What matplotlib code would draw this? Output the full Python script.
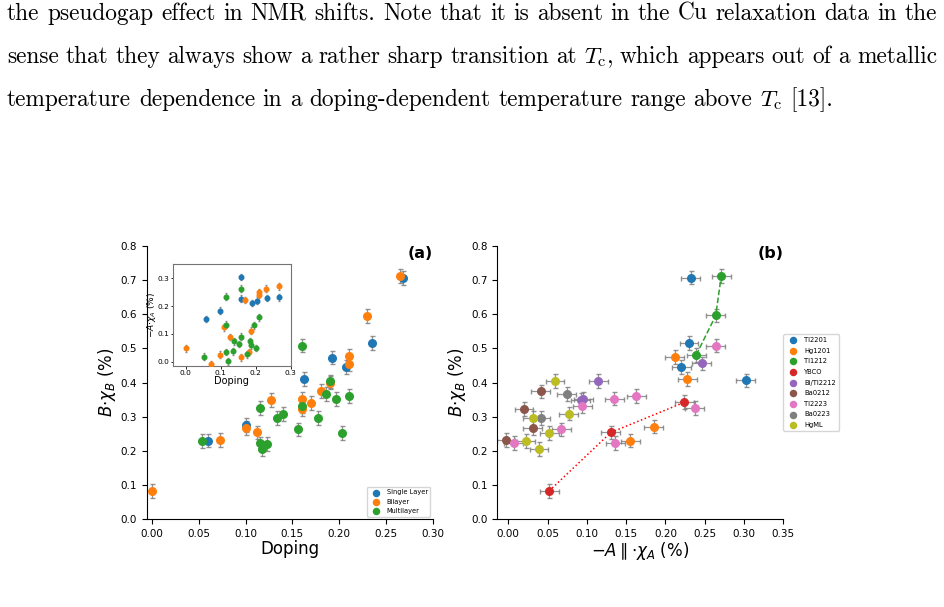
import matplotlib.pyplot as plt
import numpy as np

plt.rcParams['mathtext.fontset'] = 'dejavusans'

# ---- data panel (a): doping vs B.chi_B ----
single_x = [0.060, 0.100, 0.162, 0.192, 0.207, 0.235, 0.268]
single_y = [0.230, 0.275, 0.410, 0.473, 0.446, 0.515, 0.706]
bi_x = [0.000, 0.073, 0.100, 0.112, 0.127, 0.160, 0.160, 0.170, 0.180, 0.190, 0.210, 0.210, 0.230, 0.265]
bi_y = [0.083, 0.232, 0.266, 0.254, 0.349, 0.353, 0.322, 0.341, 0.375, 0.400, 0.455, 0.478, 0.595, 0.712]
multi_x = [0.053, 0.115, 0.115, 0.118, 0.123, 0.134, 0.140, 0.156, 0.160, 0.160, 0.177, 0.186, 0.190, 0.196, 0.203, 0.210]
multi_y = [0.228, 0.325, 0.222, 0.205, 0.221, 0.296, 0.307, 0.263, 0.332, 0.508, 0.297, 0.367, 0.403, 0.352, 0.253, 0.361]

# ---- inset: doping vs -A.chi_A ----
in_single_x = [0.058, 0.098, 0.158, 0.158, 0.189, 0.204, 0.233, 0.267]
in_single_y = [0.153, 0.183, 0.304, 0.227, 0.211, 0.219, 0.229, 0.232]
in_bi_x = [0.000, 0.071, 0.098, 0.109, 0.126, 0.158, 0.168, 0.181, 0.187, 0.209, 0.210, 0.228, 0.266]
in_bi_y = [0.048, -0.008, 0.025, 0.124, 0.089, 0.016, 0.222, 0.035, 0.112, 0.241, 0.250, 0.263, 0.271]
in_multi_x = [0.052, 0.114, 0.114, 0.115, 0.121, 0.134, 0.138, 0.153, 0.158, 0.158, 0.176, 0.184, 0.187, 0.194, 0.201, 0.210]
in_multi_y = [0.018, 0.234, 0.133, 0.035, 0.001, 0.037, 0.073, 0.064, 0.090, 0.262, 0.027, 0.073, 0.059, 0.131, 0.049, 0.160]

# ---- panel (b): -A.chi_A vs B.chi_B per compound ----
compounds = ['Tl2201', 'Hg1201', 'Tl1212', 'YBCO', 'Bi/Tl2212', 'Ba0212', 'Tl2223', 'Ba0223', 'HgML']
b_x = [
    [0.232, 0.230, 0.220, 0.302],
    [0.212, 0.228, 0.185, 0.155],
    [0.239, 0.264, 0.271],
    [0.052, 0.1306, 0.224],
    [0.1145, 0.246, 0.0954, 0.092],
    [0.0412, 0.020, 0.031, -0.003],
    [0.264, 0.163, 0.135, 0.094, 0.0674, 0.237, 0.136, 0.0069],
    [0.0743, 0.0416],
    [0.0594, 0.0768, 0.031, 0.052, 0.0225, 0.039],
]
b_y = [
    [0.707, 0.515, 0.446, 0.406],
    [0.474, 0.410, 0.271, 0.230],
    [0.480, 0.596, 0.712],
    [0.083, 0.254, 0.342],
    [0.404, 0.456, 0.352, 0.349],
    [0.374, 0.322, 0.266, 0.232],
    [0.508, 0.361, 0.353, 0.332, 0.263, 0.325, 0.223, 0.223],
    [0.367, 0.297],
    [0.404, 0.309, 0.297, 0.253, 0.229, 0.206],
]

W, H = 944, 607
fig = plt.figure(figsize=(W / 100, H / 100), dpi=100)

# ---- paragraph text on top (justified by hand) ----
lines = [
    "the pseudogap effect in NMR shifts. Note that it is absent in the Cu relaxation data in the",
    r"sense that they always show a rather sharp transition at $T_\mathrm{c}$, which appears out of a metallic",
    r"temperature dependence in a doping-dependent temperature range above $T_\mathrm{c}$ [13].",
]
baselines = [20, 63, 106]
justify = [True, True, False]
fam = ['cmr10', 'DejaVu Serif']
rend = fig.canvas.get_renderer()


def word_widths(words, size):
    out = []
    for w in words:
        t = fig.text(0, 0, w, fontsize=size, family=fam, math_fontfamily='cm')
        out.append(t.get_window_extent(rend).width)
        t.remove()
    return out


# pick font size so the last (non-justified) line is the right width
w3 = lines[2].split(' ')
ww = word_widths(w3, 10)
nat = sum(ww) + (len(w3) - 1) * 10 * 100 / 72 * 0.333
fsize = 10 * (838 - 7) / nat

for ln, yb, jus in zip(lines, baselines, justify):
    words = ln.split(' ')
    ww = word_widths(words, fsize)
    if jus:
        gap = (937 - 7 - sum(ww)) / (len(words) - 1)
    else:
        gap = fsize * 100 / 72 * 0.333
    x = 7
    for w, wd in zip(words, ww):
        fig.text(x / W, 1 - yb / H, w, fontsize=fsize, family=fam,
                 math_fontfamily='cm', va='baseline')
        x += wd + gap

ekw = dict(fmt='none', ecolor='gray', elinewidth=0.9, capsize=1.8, alpha=0.85)
tick_kw = dict(labelsize=7.5, length=3.5, width=0.8)

# ---- panel (a) ----
ax1 = fig.add_axes([0.1554, 0.1445, 0.3033, 0.4507])
for xs, ys, c, lab in [(single_x, single_y, 'C0', 'Single Layer'),
                       (bi_x, bi_y, 'C1', 'Bilayer'),
                       (multi_x, multi_y, 'C2', 'Multilayer')]:
    ax1.errorbar(xs, ys, yerr=0.02, **ekw)
    ax1.scatter(xs, ys, s=30, color=c, label=lab, zorder=3)
ax1.set_xlim(-0.0055, 0.30)
ax1.set_ylim(0, 0.8)
ax1.set_xticks(np.arange(0, 0.301, 0.05))
ax1.set_xticklabels(['%.2f' % v for v in np.arange(0, 0.301, 0.05)])
ax1.set_yticks(np.arange(0, 0.81, 0.1))
ax1.set_yticklabels(['%.1f' % v for v in np.arange(0, 0.81, 0.1)])
ax1.spines['top'].set_visible(False)
ax1.spines['right'].set_visible(False)
ax1.tick_params(**tick_kw)
ax1.set_xlabel('Doping', fontsize=12, labelpad=1)
ax1.set_ylabel(r'$B{\cdot}\chi_B$ (%)', fontsize=12, labelpad=2)
ax1.text(1.0, 1.0, '(a)', transform=ax1.transAxes, ha='right', va='top',
         fontsize=11.5, fontweight='bold')
ax1.legend(loc='lower right', fontsize=4.8, markerscale=0.8, borderaxespad=0.4,
           handletextpad=0.6)

# ---- inset ----
axi = fig.add_axes([0.1829, 0.397, 0.125, 0.1675])
for xs, ys, c in [(in_single_x, in_single_y, 'C0'),
                  (in_bi_x, in_bi_y, 'C1'),
                  (in_multi_x, in_multi_y, 'C2')]:
    axi.errorbar(xs, ys, yerr=0.012, fmt='none', ecolor='gray', elinewidth=0.7,
                 capsize=1.0, alpha=0.85)
    axi.scatter(xs, ys, s=11, color=c, zorder=3)
axi.set_xlim(-0.038, 0.30)
axi.set_ylim(-0.0155, 0.35)
axi.set_xticks([0, 0.1, 0.2, 0.3])
axi.set_xticklabels(['0.0', '0.1', '0.2', '0.3'])
axi.set_yticks([0, 0.1, 0.2, 0.3])
axi.set_yticklabels(['0.0', '0.1', '0.2', '0.3'])
axi.tick_params(labelsize=5.3, length=1.8, width=0.6, pad=0.8)
for s in axi.spines.values():
    s.set_color('0.45')
    s.set_linewidth(0.8)
axi.set_xlabel('Doping', fontsize=7, labelpad=0.5)
axi.set_ylabel(r'$-A{\cdot}\chi_A$ (%)', fontsize=6.5)
axi.yaxis.set_label_coords(-0.125, 0.5)

# ---- panel (b) ----
ax2 = fig.add_axes([0.5268, 0.1445, 0.303, 0.4507])
for i, (name, xs, ys) in enumerate(zip(compounds, b_x, b_y)):
    ax2.errorbar(xs, ys, xerr=0.012, yerr=0.02, **ekw)
    ax2.scatter(xs, ys, s=30, color='C%d' % i, label=name, zorder=3)
# guide lines through YBCO and Tl1212
ax2.plot(b_x[3], b_y[3], ':', color='red', lw=1.1, zorder=2)
ax2.plot(b_x[2], b_y[2], '--', color='C2', lw=1.1, zorder=2)
ax2.set_xlim(-0.014, 0.35)
ax2.set_ylim(0, 0.8)
ax2.set_xticks(np.arange(0, 0.351, 0.05))
ax2.set_xticklabels(['%.2f' % v for v in np.arange(0, 0.351, 0.05)])
ax2.set_yticks(np.arange(0, 0.81, 0.1))
ax2.set_yticklabels(['%.1f' % v for v in np.arange(0, 0.81, 0.1)])
ax2.spines['top'].set_visible(False)
ax2.spines['right'].set_visible(False)
ax2.tick_params(**tick_kw)
ax2.set_xlabel(r'$-A\parallel{\cdot}\chi_A$ (%)', fontsize=12, labelpad=1)
ax2.set_ylabel(r'$B{\cdot}\chi_B$ (%)', fontsize=12, labelpad=2)
ax2.text(1.0, 1.0, '(b)', transform=ax2.transAxes, ha='right', va='top',
         fontsize=11.5, fontweight='bold')
ax2.legend(loc='center left', bbox_to_anchor=(1.0, 0.5), fontsize=4.9,
           markerscale=0.8, borderaxespad=0.0, handletextpad=0.7,
           labelspacing=0.68)

fig.savefig('out.png', dpi=100)
